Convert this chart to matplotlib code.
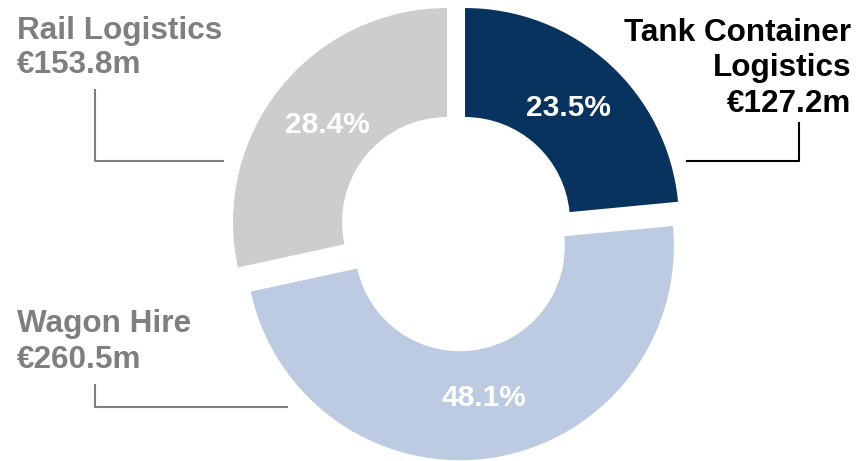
import matplotlib.pyplot as plt

# revenue by division, EUR m
segments = ['Tank Container\nLogistics', 'Wagon Hire', 'Rail Logistics']
revenue = [127.2, 260.5, 153.8]
colors = ['#08335e', '#bccbe1', '#cdcdcd']
label_colors = ['#000000', '#7f7f7f', '#7f7f7f']

W, H = 859, 461
plt.rcParams['font.family'] = ['Liberation Sans', 'DejaVu Sans']

fig = plt.figure(figsize=(W / 100, H / 100), dpi=100)
ax = fig.add_axes([0, 0, 1, 1])

wedges, texts, pcts = ax.pie(
    revenue, colors=colors, startangle=90, counterclock=False,
    radius=214, center=(457.4, H - 230.4), explode=[11.3, 16, 13.3],
    wedgeprops=dict(width=109, linewidth=0),
    autopct='%.1f%%', pctdistance=0.72,
    textprops=dict(color='white', fontsize=21.5, fontweight='bold'))
for t in pcts:
    t.set_va('center')

ax.set_xlim(0, W)
ax.set_ylim(0, H)
ax.set_aspect('equal')
ax.axis('off')

def py(y):
    return H - y

# division names with revenue (baseline of the last line)
ax.text(851, py(112), f'{segments[0]}\n€{revenue[0]}m', ha='right', va='baseline',
        fontsize=22.7, fontweight='bold', color=label_colors[0], linespacing=1.24)
ax.text(17, py(73), f'{segments[2]}\n€{revenue[2]}m', ha='left', va='baseline',
        fontsize=22.7, fontweight='bold', color=label_colors[2], linespacing=1.19)
ax.text(17, py(368), f'{segments[1]}\n€{revenue[1]}m', ha='left', va='baseline',
        fontsize=22.7, fontweight='bold', color=label_colors[1], linespacing=1.24)

# leader lines
ax.plot([799, 799, 687], [py(123), py(161), py(161)], color='black', lw=1.5)
ax.plot([95, 95, 223], [py(90), py(161), py(161)], color='#7f7f7f', lw=1.5)
ax.plot([95, 95, 287], [py(385), py(407), py(407)], color='#7f7f7f', lw=1.5)

fig.savefig('out.png', dpi=100)
